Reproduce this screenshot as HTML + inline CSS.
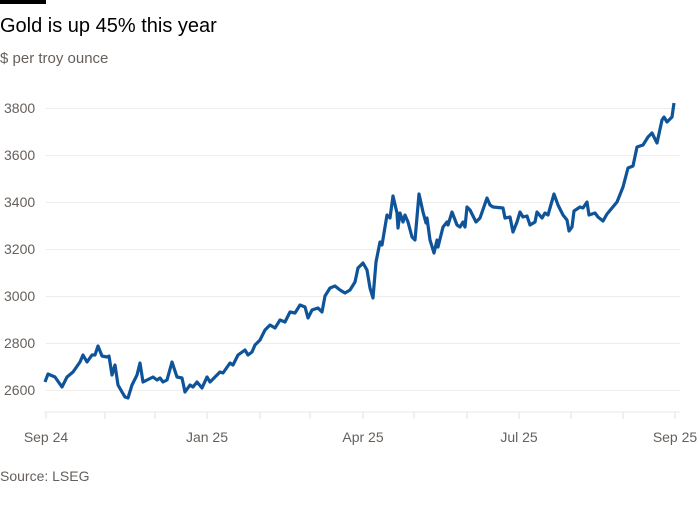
<!DOCTYPE html>
<html><head><meta charset="utf-8"><style>
body{margin:0;background:#fff;width:700px;height:500px;overflow:hidden;font-family:"Liberation Sans",sans-serif;}
</style></head><body>
<svg width="700" height="500" xmlns="http://www.w3.org/2000/svg" font-family="Liberation Sans, sans-serif">
<rect x="0" y="0" width="46" height="4" fill="#000"/>
<text x="0" y="32" font-size="20" fill="#000">Gold is up 45% this year</text>
<text x="0" y="63" font-size="15" fill="#66605c">$ per troy ounce</text>
<g stroke="#f0ece8" stroke-width="1">
<line x1="46" x2="680" y1="108.5" y2="108.5"/><line x1="46" x2="680" y1="155.5" y2="155.5"/>
<line x1="46" x2="680" y1="202.5" y2="202.5"/><line x1="46" x2="680" y1="249.5" y2="249.5"/>
<line x1="46" x2="680" y1="296.5" y2="296.5"/><line x1="46" x2="680" y1="343.5" y2="343.5"/>
<line x1="46" x2="680" y1="390.5" y2="390.5"/>
</g>
<line x1="44" x2="680" y1="412" y2="412" stroke="#ece8e4"/>
<g stroke="#e6e2de"><line x1="46" x2="46" y1="412" y2="419"/><line x1="105" x2="105" y1="412" y2="419"/><line x1="155" x2="155" y1="412" y2="419"/><line x1="207" x2="207" y1="412" y2="419"/><line x1="260" x2="260" y1="412" y2="419"/><line x1="310" x2="310" y1="412" y2="419"/><line x1="363" x2="363" y1="412" y2="419"/><line x1="414" x2="414" y1="412" y2="419"/><line x1="467" x2="467" y1="412" y2="419"/><line x1="519" x2="519" y1="412" y2="419"/><line x1="571" x2="571" y1="412" y2="419"/><line x1="623" x2="623" y1="412" y2="419"/><line x1="675" x2="675" y1="412" y2="419"/></g>
<g font-size="14" fill="#66605c">
<text x="4" y="113">3800</text><text x="4" y="160">3600</text><text x="4" y="207">3400</text><text x="4" y="254">3200</text><text x="4" y="301">3000</text><text x="4" y="348">2800</text><text x="4" y="395">2600</text>
<text x="46" y="442" text-anchor="middle">Sep 24</text><text x="207" y="442" text-anchor="middle">Jan 25</text><text x="363" y="442" text-anchor="middle">Apr 25</text><text x="519" y="442" text-anchor="middle">Jul 25</text><text x="675" y="442" text-anchor="middle">Sep 25</text>
<text x="0" y="481">Source: LSEG</text>
</g>
<polyline fill="none" stroke="#0f5499" stroke-width="3.2" stroke-linejoin="round" points="45,382 48,374 55,377 62,387 67,377 73,372 80,362 83,355 87,362 92,355 95,355 98,346 102,356 107,357 109,356 112,375 115,365 118,385 122,392 125,397 128,398 132,385 137,375 140,363 143,382 153,377 157,380 160,378 163,382 167,380 172,362 177,377 182,378 185,392 190,385 193,387 197,382 202,388 207,377 210,382 220,372 223,373 230,363 233,365 238,355 245,350 248,355 252,352 255,345 260,340 265,330 270,325 275,328 280,320 285,322 290,312 295,313 300,305 305,307 308,318 312,310 318,308 322,312 325,296 330,288 335,286 340,290 345,293 350,290 355,282 358,268 363,263 367,270 370,288 373,298 376,262 380,242 382,245 387,215 390,218 393,196 397,213 398,228 400,213 403,222 405,215 408,222 412,237 415,240 419,194 423,212 426,223 427,218 430,240 434,253 437,240 438,247 443,227 447,222 448,225 452,212 457,225 460,227 463,222 465,227 467,207 470,210 476,222 480,218 487,198 490,205 493,207 503,208 505,218 510,217 513,232 517,222 520,212 523,217 527,216 530,225 535,222 537,212 542,218 545,213 548,215 554,194 558,205 563,215 567,220 569,231 572,227 574,211 580,207 583,208 587,202 589,215 595,213 598,217 603,221 607,214 612,208 617,202 623,187 628,168 633,166 637,147 643,145 648,137 652,133 657,143 662,120 664,117 667,122 672,117 674,103"/>
</svg>
</body></html>
